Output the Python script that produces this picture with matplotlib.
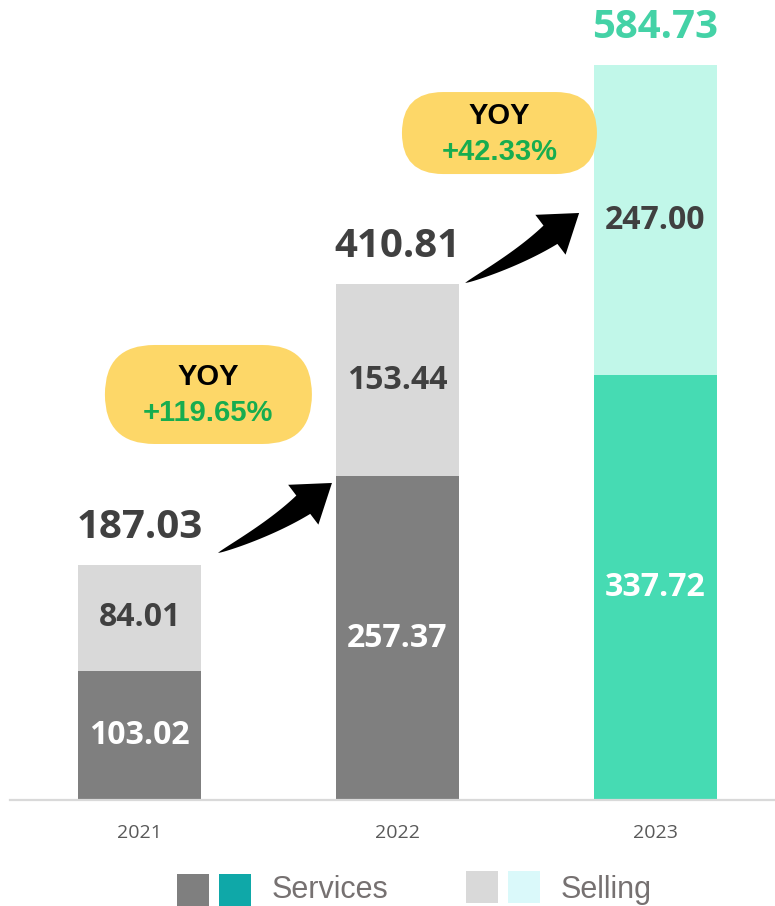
import numpy as np
import matplotlib
matplotlib.use("Agg")
import matplotlib.pyplot as plt
from matplotlib.patches import FancyBboxPatch, Polygon, Rectangle
from matplotlib.transforms import IdentityTransform

years = ["2021", "2022", "2023"]
services = [103.02, 257.37, 337.72]
selling = [84.01, 153.44, 247.00]
totals = [187.03, 410.81, 584.73]
yoy = ["+119.65%", "+42.33%"]

svc_colors = ["#7f7f7f", "#7f7f7f", "#46dbb3"]
sel_colors = ["#d9d9d9", "#d9d9d9", "#c1f7e9"]
svc_text = ["white", "white", "white"]
sel_text = ["#404040", "#404040", "#404040"]
total_colors = ["#404040", "#404040", "#44d2a6"]

W, H = 775, 906
fig = plt.figure(figsize=(W / 100, H / 100), dpi=100)
ax = fig.add_axes([10 / W, 106 / H, 765 / W, 800 / H])
ax.set_xlim(-0.502, 2.463)
ax.set_ylim(0, 800 / 1.257)

x = range(len(years))
bw = 0.477
ax.bar(x, services, bw, color=svc_colors)
ax.bar(x, selling, bw, bottom=services, color=sel_colors)

num_font = dict(family=["Open Sans", "DejaVu Sans"], weight="bold")
for i in x:
    ax.text(i, services[i] / 2, f"{services[i]:.2f}", ha="center", va="center",
            fontsize=23, color=svc_text[i], **num_font)
    ax.text(i, services[i] + selling[i] / 2, f"{selling[i]:.2f}", ha="center", va="center",
            fontsize=23, color=sel_text[i], **num_font)
    ax.annotate(f"{totals[i]:.2f}", (i, totals[i]), xytext=(0, 19.5),
                textcoords="offset points", ha="center", va="baseline",
                fontsize=29, color=total_colors[i], **num_font)

for s in ["top", "left", "right"]:
    ax.spines[s].set_visible(False)
ax.spines["bottom"].set_color("#d9d9d9")
ax.spines["bottom"].set_linewidth(1.6)
ax.set_yticks([])
ax.set_xticks(list(x))
ax.set_xticklabels(years, fontsize=14, color="#595959",
                   family=["Open Sans", "DejaVu Sans"])
ax.tick_params(axis="x", length=0, pad=17)

ident = IdentityTransform()


def curved_arrow(p0, tip, head_len=36, head_w=50, tail_w=23):
    # tapered curved arrow, drawn in display pixels
    p0, tip = np.asarray(p0, float), np.asarray(tip, float)
    u = np.array([29.0, 22.0]); u /= np.hypot(*u)
    v0 = np.array([1.0, 0.45]); v0 /= np.hypot(*v0)
    base = tip - head_len * u
    A = np.column_stack([v0, u])
    t, s = np.linalg.solve(A, base - p0)
    ctrl = p0 + t * v0
    ts = np.linspace(0, 1, 40)[:, None]
    pts = (1 - ts) ** 2 * p0 + 2 * (1 - ts) * ts * ctrl + ts ** 2 * base
    der = 2 * (1 - ts) * (ctrl - p0) + 2 * ts * (base - ctrl)
    der /= np.hypot(der[:, 0], der[:, 1])[:, None]
    nrm = np.column_stack([-der[:, 1], der[:, 0]])
    half = (tail_w / 2) * ts ** 0.75
    left = pts + nrm * half
    right = pts - nrm * half
    n_end = np.array([-u[1], u[0]])
    head = [base + n_end * head_w / 2, tip, base - n_end * head_w / 2]
    poly = np.vstack([left, head, right[::-1]])
    fig.add_artist(Polygon(poly, closed=True, transform=ident,
                           facecolor="black", edgecolor="none"))


# growth arrows and YOY bubbles
arrow_start = [(0.304, 9.5), (1.262, 0.5)]
bubble_pos = [(0.267, 322.6, 207, 99), (1.395, 530.6, 195, 82)]
for i in range(2):
    ax_x, dy = arrow_start[i]
    p0 = ax.transData.transform((ax_x, totals[i] + dy))
    curved_arrow(p0, p0 + np.array([114.0, 70.0]))

    bx, by, bwid, bh = bubble_pos[i]
    cx, cy = ax.transData.transform((bx, by))
    box = FancyBboxPatch((cx - bwid / 2, cy - bh / 2), bwid, bh,
                         boxstyle=f"round,pad=0,rounding_size={bh / 2}",
                         transform=ident, facecolor="#fdd768", edgecolor="none")
    fig.add_artist(box)
    fig.text(cx / W, (cy + 17) / H, "YOY", ha="center", va="center",
             fontsize=21, weight="bold", color="black", family="Liberation Sans")
    fig.text(cx / W, (cy - 19) / H, yoy[i], ha="center", va="center",
             fontsize=21, weight="bold", color="#17ad4f", family="Liberation Sans")

# legend
legend_items = [
    ("Services", ["#7f7f7f", "#0fa8a8"], 177, 874, 8),
    ("Selling", ["#d9d9d9", "#daf9fa"], 466, 871, 8),
]
for label, cols, lx, ly, base_y in legend_items:
    for k, c in enumerate(cols):
        fig.add_artist(Rectangle((lx + k * 42, H - ly - 32), 32, 32,
                                 transform=ident, facecolor=c, edgecolor="none"))
    fig.text((lx + 95) / W, base_y / H, label, ha="left", va="baseline",
             fontsize=22, color="#767171", family="Liberation Sans")

fig.savefig("out.png", dpi=100)
